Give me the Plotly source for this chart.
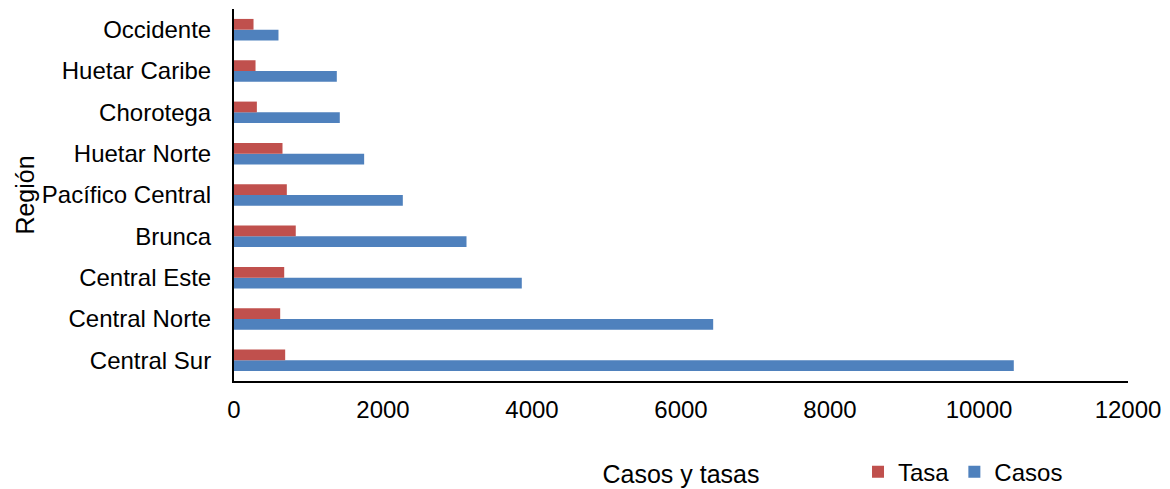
import plotly.graph_objects as go

# Regions listed bottom-to-top as they appear on the category axis
regiones = ["Central Sur", "Central Norte", "Central Este", "Brunca",
            "Pacífico Central", "Huetar Norte", "Chorotega",
            "Huetar Caribe", "Occidente"]
casos = [10467, 6432, 3863, 3121, 2266, 1747, 1420, 1380, 597]
tasa = [687, 620, 674, 829, 709, 651, 307, 289, 262]

FONT = "Liberation Sans, Arial, sans-serif"

fig = go.Figure()
fig.add_trace(go.Bar(y=regiones, x=casos, name="Casos", orientation="h",
                     marker=dict(color="#4F81BD", line=dict(width=0))))
fig.add_trace(go.Bar(y=regiones, x=tasa, name="Tasa", orientation="h",
                     marker=dict(color="#C0504D", line=dict(width=0))))

fig.update_layout(
    width=1170, height=489,
    margin=dict(l=234, r=42, t=9, b=108, autoexpand=False),
    paper_bgcolor="white", plot_bgcolor="white",
    barmode="group", bargap=0.48, bargroupgap=0,
    font=dict(family=FONT, size=24, color="black"),
    showlegend=True,
    legend=dict(orientation="h", traceorder="reversed",
                x=0.698, xanchor="left", y=-0.245, yanchor="middle",
                font=dict(size=24), itemwidth=30, bgcolor="rgba(0,0,0,0)"),
)

fig.update_xaxes(
    range=[0, 12000], dtick=2000, tick0=0, tickformat="d",
    showgrid=False, zeroline=False,
    showline=True, linecolor="black", linewidth=1.5, ticks="",
    ticklabelstandoff=6, automargin=False,
    title=dict(text="Casos y tasas", standoff=44, font=dict(size=25)),
)
fig.update_yaxes(
    showgrid=False, zeroline=False, showline=True, linecolor="black",
    linewidth=2, ticks="", ticklabelstandoff=16, automargin=False,
    title=dict(text="Región", standoff=0, font=dict(size=25)),
)

fig.write_html("out.html")
